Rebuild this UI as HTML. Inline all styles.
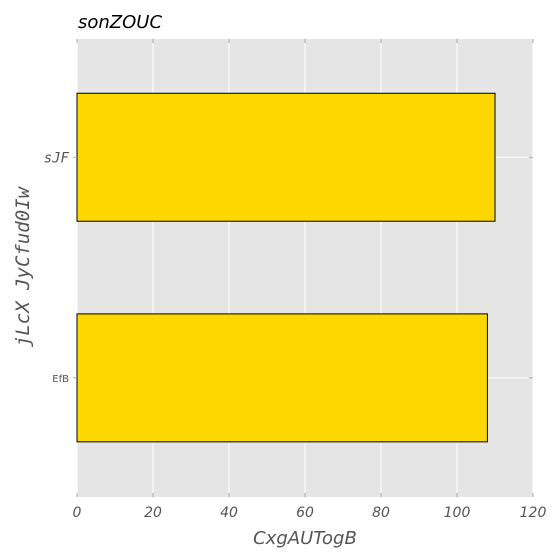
<!DOCTYPE html>
<html><head><meta charset="utf-8"><style>
body{margin:0;background:#fff;}
svg{display:block;}
</style></head><body>
<svg id="chart" width="560" height="560" xmlns="http://www.w3.org/2000/svg">
<rect x="77" y="39" width="456" height="458" fill="#e5e5e5"/>
<g id="grid"></g>
<g id="bars"></g>
<g id="ticks"></g>
<text x="78" y="28" font-family="DejaVu Sans, sans-serif" font-style="italic" font-size="18" fill="#000">sonZOUC</text>
<text x="305" y="544" text-anchor="middle" font-family="DejaVu Sans, sans-serif" font-style="italic" font-size="18" fill="#555">CxgAUTogB</text>
<text transform="translate(29,267) rotate(-90)" text-anchor="middle" font-family="DejaVu Sans Mono, monospace" font-style="italic" font-size="19" fill="#555">jLcX JyCfud0Iw</text>
</svg>
<script>
const categories = ["EfB", "sJF"];
const values = [108, 110];
const xTicks = [0, 20, 40, 60, 80, 100, 120];
const NS = "http://www.w3.org/2000/svg";
const L = 77, R = 533, T = 39, B = 497;
const xMin = 0, xMax = 120, yMin = -0.54, yMax = 1.536;
function xs(v){ return L + (v - xMin) / (xMax - xMin) * (R - L); }
function ys(v){ return B - (v - yMin) / (yMax - yMin) * (B - T); }
function mk(tag, attrs, parent){ const e = document.createElementNS(NS, tag); for (const k in attrs) e.setAttribute(k, attrs[k]); parent.appendChild(e); return e; }
const grid = document.getElementById('grid'), bars = document.getElementById('bars'), ticks = document.getElementById('ticks');
xTicks.forEach(t => {
  const x = xs(t);
  const g = mk('line', {x1:x, x2:x, y1:T, y2:B, stroke:'#fff', 'stroke-width':1}, grid);
  
  
  mk('line', {x1:x, x2:x, y1:B, y2:B-4, stroke:'#999', 'stroke-width':0.8}, ticks);
  mk('line', {x1:x, x2:x, y1:T, y2:T+4, stroke:'#999', 'stroke-width':0.8}, ticks);
  const tx = mk('text', {x:x, y:B+20, 'text-anchor':'middle', 'font-family':'DejaVu Sans, sans-serif', 'font-style':'italic', 'font-size':14, fill:'#555'}, ticks);
  tx.textContent = t;
  
  
});
categories.forEach((c, i) => {
  const y = ys(i);
  const g = mk('line', {x1:L, x2:R, y1:y, y2:y, stroke:'#fff'}, grid);
  
  
  const h = ys(0) - ys(0.58);
  const b = mk('rect', {x:xs(0), y:y - h/2, width:xs(values[i]) - xs(0), height:h, fill:'#ffd700', stroke:'#000', 'stroke-width':1}, bars);
  
  
  mk('line', {x1:L-4, x2:L, y1:y, y2:y, stroke:'#999', 'stroke-width':0.8}, ticks);
  mk('line', {x1:R-4, x2:R, y1:y, y2:y, stroke:'#999', 'stroke-width':0.8}, ticks);
  const mono = i === 1;
  const tx = mk('text', {x:L-8, y:y + (mono?5:4), 'text-anchor':'end', 'font-family': mono ? 'DejaVu Sans Mono, monospace' : 'DejaVu Sans, sans-serif', 'font-style': mono ? 'italic' : 'normal', 'font-size': mono ? 14 : 10, fill:'#555'}, ticks);
  tx.textContent = c;
  
  
});
</script>
</body></html>
